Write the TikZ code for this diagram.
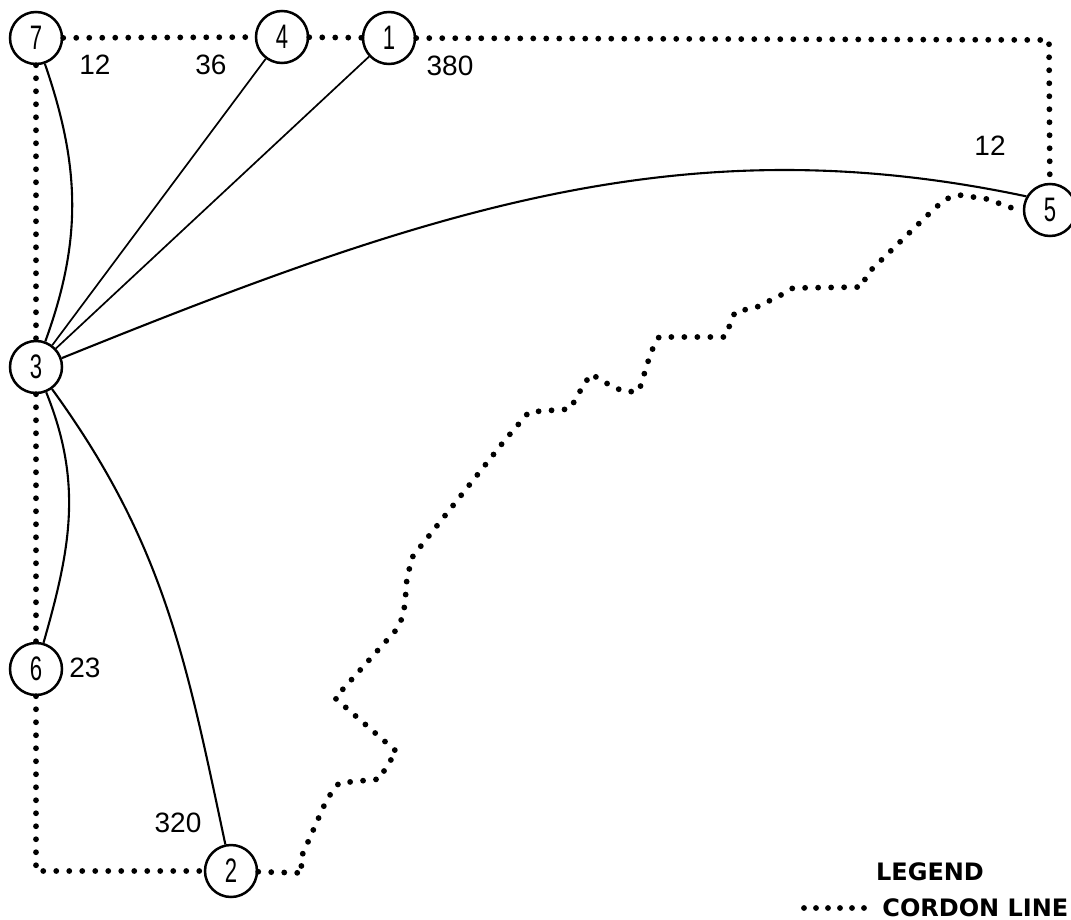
\documentclass[tikz,border=0pt]{standalone}
\usepackage{fontspec}
\setmainfont{Liberation Sans}
\newfontfamily\legfont{DejaVu Sans}
\begin{document}
\begin{tikzpicture}[x=0.5pt,y=0.5pt,
  zone/.style={circle,draw,line width=1.25pt,minimum size=26pt,inner sep=0pt,
    font=\fontsize{17}{17}\selectfont},
  cordon/.style={line width=2.9pt,line cap=round,dash pattern=on 0pt off 6.5pt},
  link/.style={line width=1.05pt},
  thinlink/.style={line width=0.85pt},
  lab/.style={font=\fontsize{14}{14}\selectfont,inner sep=0pt},
  legtext/.style={font=\legfont\bfseries\fontsize{12}{12}\selectfont,inner sep=0pt}]
\useasboundingbox (0,0) rectangle (1071,-920);
\newcommand{\zd}[1]{\scalebox{0.65}[1]{#1}}
% zones
\node[zone] (z7) at (36,-38) {\zd{7}};
\node[zone] (z4) at (282,-37) {\zd{4}};
\node[zone] (z1) at (389,-38) {\zd{1}};
\node[zone] (z5) at (1050,-210) {\zd{5}};
\node[zone] (z3) at (36,-367) {\zd{3}};
\node[zone] (z6) at (36,-669) {\zd{6}};
\node[zone] (z2) at (231,-871) {\zd{2}};
\coordinate (ctr) at (1049,-40);
\coordinate (cbl) at (36,-871);
% cordon line
\draw[cordon] (z7) -- (z4);
\draw[cordon] (z4) -- (z1);
\draw[cordon] (z1) -- (ctr) -- (z5);
\draw[cordon] (z7) -- (z3);
\draw[cordon] (z3) -- (z6);
\draw[cordon] (z6) -- (cbl) -- (z2);
\draw[cordon] (z2) -- (303,-873) -- (300,-860) -- (327,-799) -- (339,-783)
  -- (380,-779) -- (387,-765) -- (397,-752) -- (335,-698) -- (362,-668)
  -- (379,-649) -- (397,-629) -- (403,-616) -- (405,-603) -- (407,-577)
  -- (413,-556) -- (505,-440) -- (529,-412) -- (570,-409) -- (583,-386)
  -- (591,-374) -- (613,-387) -- (626,-392) -- (639,-391) -- (651,-352)
  -- (659,-337) -- (725,-337) -- (735,-312) -- (757,-307) -- (781,-295)
  -- (793,-288) -- (862,-287) -- (867,-274) -- (905,-237) -- (935,-208)
  -- (946,-199) -- (959,-195) -- (987,-199) -- (1012,-208) -- (z5);
% desire lines
\draw[link] (z7) to[out=-71,in=70] (z3);
\draw[thinlink] (z4) -- (z3);
\draw[thinlink] (z1) -- (z3);
\draw[link] (z3.19) .. controls (433,-208) and (685,-124) .. (z5.150);
\draw[link] (z3) to[out=-68,in=74] (z6);
\draw[link] (z3) to[out=-54,in=102] (z2);
% labels
\node[lab] (l7) at (95,-65) {12};
\node[lab] (l4) at (211,-65) {36};
\node[lab] (l1) at (450,-66) {380};
\node[lab] (l5) at (990,-146) {12};
\node[lab] (l6) at (85,-668) {23};
\node[lab] (l2) at (178,-823) {320};
% legend
\node[legtext] (leg) at (930,-872) {LEGEND};
\node[legtext,anchor=west] (cl) at (882,-908) {CORDON LINE};
\coordinate (ls) at (804,-908);
\coordinate (le) at (864,-908);
\draw[cordon,dash pattern=on 0pt off 6pt] (ls) -- (le);
\end{tikzpicture}
\end{document}
